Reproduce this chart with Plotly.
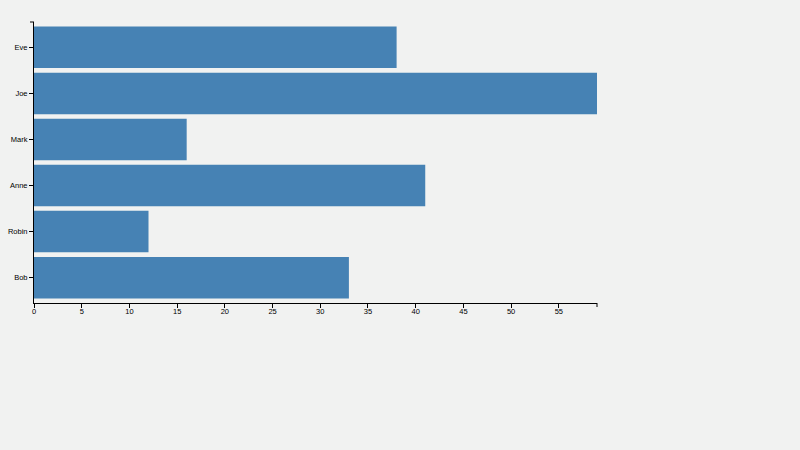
import plotly.graph_objects as go

names = ["Eve", "Joe", "Mark", "Anne", "Robin", "Bob"]
values = [38, 59, 16, 41, 12, 33]
x_ticks = list(range(0, 60, 5))

bg = "#f1f2f1"

fig = go.Figure()
fig.add_trace(go.Bar(x=values, y=names, orientation="h",
                     marker=dict(color="steelblue", line=dict(width=0))))

fig.update_layout(
    width=800, height=450,
    paper_bgcolor=bg, plot_bgcolor=bg,
    margin=dict(l=34, r=203, t=22, b=147),
    bargap=0.1, showlegend=False,
    font=dict(family="Liberation Sans, Arial, sans-serif", size=7.5, color="#000"),
)
fig.update_xaxes(range=[0, 59], tickvals=x_ticks, showgrid=False, zeroline=False,
                 showline=True, linecolor="#000", linewidth=1, automargin=False,
                 ticks="outside", ticklen=4, tickcolor="#000", tickwidth=1,
                 ticklabelstandoff=-3)
fig.update_yaxes(categoryorder="array", categoryarray=names, range=[5.55, -0.55],
                 showgrid=False, zeroline=False, automargin=False,
                 showline=True, linecolor="#000", linewidth=1,
                 ticks="outside", ticklen=4, tickcolor="#000", tickwidth=1,
                 ticklabelstandoff=0)

# outer end ticks of the axis domain paths
fig.add_shape(type="line", xref="paper", yref="paper", xsizemode="pixel", xanchor=0,
              x0=-4, x1=0, y0=1, y1=1, line=dict(color="#000", width=1))
fig.add_shape(type="line", xref="paper", yref="paper", ysizemode="pixel", yanchor=0,
              x0=1, x1=1, y0=0, y1=-4, line=dict(color="#000", width=1))

fig.write_html("out.html", config={"displayModeBar": False},
               post_script="document.body.style.margin='0';"
                           "document.body.style.background='%s';" % bg)
